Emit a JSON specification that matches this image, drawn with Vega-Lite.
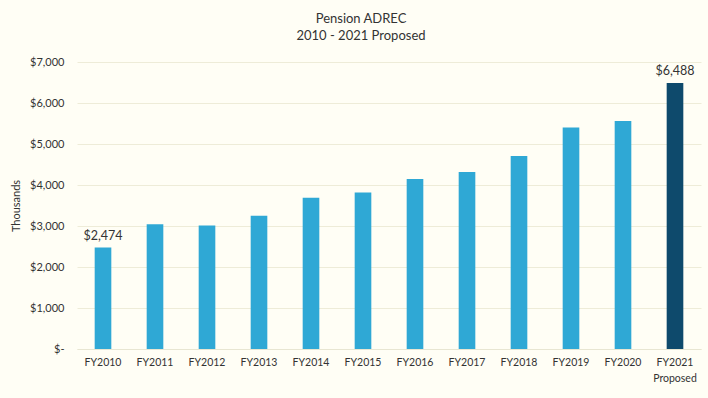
{
  "$schema": "https://vega.github.io/schema/vega-lite/v6.json",
  "autosize": "none",
  "width": 624,
  "height": 287,
  "padding": {"left": 77, "top": 62, "right": 7, "bottom": 49},
  "background": "#fffef5",
  "title": {
    "text": ["Pension ADREC", "2010 - 2021 Proposed"],
    "anchor": "middle",
    "frame": "group",
    "dx": -28,
    "offset": 13,
    "font": "Lato",
    "fontSize": 13,
    "fontWeight": "normal",
    "color": "#333333",
    "lineHeight": 17
  },
  "config": {
    "view": {"stroke": null},
    "font": "Lato"
  },
  "data": {
    "values": [
      {"year": "FY2010", "value": 2474, "type": "actual"},
      {"year": "FY2011", "value": 3040, "type": "actual"},
      {"year": "FY2012", "value": 3010, "type": "actual"},
      {"year": "FY2013", "value": 3250, "type": "actual"},
      {"year": "FY2014", "value": 3690, "type": "actual"},
      {"year": "FY2015", "value": 3820, "type": "actual"},
      {"year": "FY2016", "value": 4145, "type": "actual"},
      {"year": "FY2017", "value": 4315, "type": "actual"},
      {"year": "FY2018", "value": 4705, "type": "actual"},
      {"year": "FY2019", "value": 5400, "type": "actual"},
      {"year": "FY2020", "value": 5560, "type": "actual"},
      {"year": "FY2021 Proposed", "value": 6488, "type": "proposed"}
    ]
  },
  "encoding": {
    "x": {
      "field": "year",
      "type": "nominal",
      "sort": null,
      "scale": {"paddingInner": 0.68, "paddingOuter": 0.34},
      "axis": {
        "title": null,
        "labelAngle": 0,
        "labelExpr": "split(datum.value, ' ')",
        "labelFont": "Lato",
        "labelFontSize": 10.5,
        "labelColor": "#333333",
        "labelPadding": 8,
        "labelLineHeight": 16,
        "ticks": false,
        "domain": true,
        "domainColor": "#e8e6d2"
      }
    },
    "y": {
      "field": "value",
      "type": "quantitative",
      "scale": {"domain": [0, 7000], "nice": false},
      "axis": {
        "title": "Thousands",
        "titleFont": "Lato",
        "titleFontSize": 11,
        "titleFontWeight": "normal",
        "titleColor": "#333333",
        "titlePadding": 8,
        "values": [0, 1000, 2000, 3000, 4000, 5000, 6000, 7000],
        "labelExpr": "datum.value == 0 ? '$-' : '$' + format(datum.value, ',')",
        "labelFont": "Lato",
        "labelFontSize": 11,
        "labelColor": "#333333",
        "labelPadding": 13,
        "ticks": false,
        "domain": false,
        "grid": true,
        "gridColor": "#eeecd8",
        "gridWidth": 1
      }
    }
  },
  "layer": [
    {
      "mark": {"type": "bar"},
      "encoding": {
        "color": {
          "field": "type",
          "type": "nominal",
          "scale": {"domain": ["actual", "proposed"], "range": ["#2fa8d5", "#0e4a6c"]},
          "legend": null
        }
      }
    },
    {
      "transform": [{"filter": "datum.year == 'FY2010' || datum.year == 'FY2021 Proposed'"}],
      "mark": {"type": "text", "baseline": "bottom", "dy": -5, "font": "Lato", "fontSize": 12.5, "color": "#333333"},
      "encoding": {
        "text": {"field": "value", "type": "quantitative", "format": "$,.0f"}
      }
    }
  ]
}
